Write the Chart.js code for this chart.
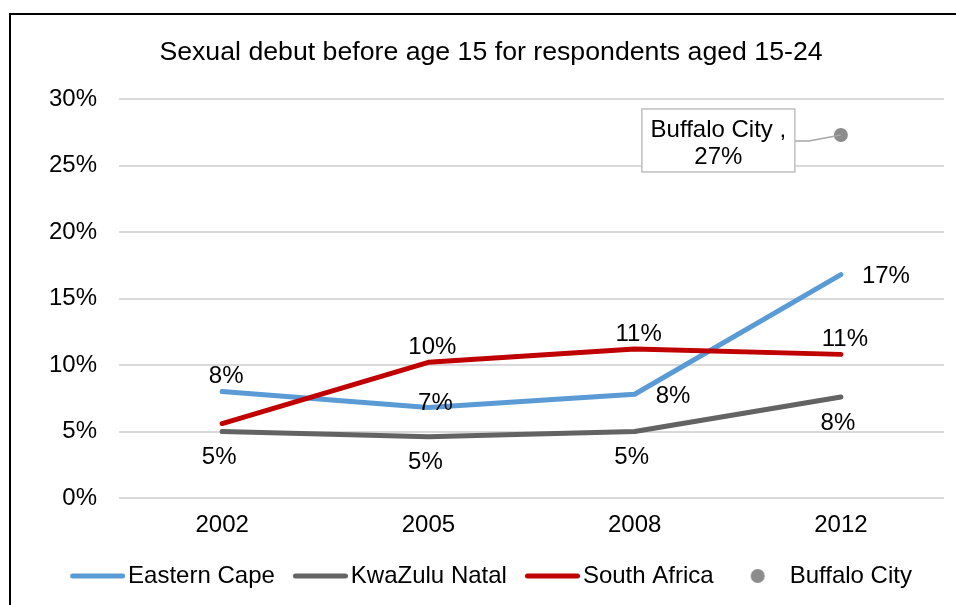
<!DOCTYPE html>
<html>
<head>
<meta charset="utf-8">
<script src="https://cdn.jsdelivr.net/npm/chart.js@4.4.1/dist/chart.umd.min.js"></script>
<style>
  html, body { margin: 0; padding: 0; background: #fff; overflow: hidden; }
  #frame { position: absolute; left: 9px; top: 13px; width: 962px; height: 620px; border: 2px solid #000; }
  #chart { display: block; }
</style>
</head>
<body>
<div id="frame"><canvas id="chart" width="960" height="590"></canvas></div>
<script>
// 数据
const years = ['2002', '2005', '2008', '2012'];
const easternCape = [8.0, 6.8, 7.8, 16.8];
const kwaZuluNatal = [5.0, 4.6, 5.0, 7.6];
const southAfrica = [5.6, 10.2, 11.2, 10.8];
const buffaloCity = [null, null, null, 27.3];
const yTicks = [0, 5, 10, 15, 20, 25, 30];

const FONT = '"Liberation Sans", Arial, sans-serif';

// 数据标签位置
const LABEL_POS = {
  above:  { dx: 4,  dy: -15, align: 'center' },
  below:  { dx: -3, dy: 26,  align: 'center' },
  right:  { dx: 21, dy: 2,   align: 'left' },
  center: { dx: 7,  dy: -4,  align: 'center' },
};

// 图例色块：线段或圆点，画成小 canvas 作为 pointStyle
function legendSwatch(ds) {
  const c = document.createElement('canvas');
  if (ds.showLine === false) {
    c.width = 22; c.height = 16;
    const g = c.getContext('2d');
    g.fillStyle = ds.backgroundColor;
    g.beginPath();
    g.arc(14, 8, 7, 0, Math.PI * 2);
    g.fill();
  } else {
    c.width = 64; c.height = 8;
    const g = c.getContext('2d');
    g.strokeStyle = ds.borderColor;
    g.lineWidth = 5;
    g.lineCap = 'round';
    g.beginPath();
    g.moveTo(11.5, 4);
    g.lineTo(61.5, 4);
    g.stroke();
  }
  return c;
}

const valueLabels = {
  id: 'valueLabels',
  afterDatasetsDraw(chart) {
    const ctx = chart.ctx;
    ctx.save();
    ctx.font = '24px ' + FONT;
    ctx.fillStyle = '#000';
    ctx.textBaseline = 'middle';
    chart.data.datasets.forEach((ds, i) => {
      const meta = chart.getDatasetMeta(i);
      if (ds.callout) {
        meta.data.forEach((pt, j) => {
          const v = ds.data[j];
          if (v == null) return;
          const left = pt.x - 199, right = pt.x - 46, top = pt.y - 26, bottom = pt.y + 37;
          // 引线
          ctx.strokeStyle = '#a6a6a6';
          ctx.lineWidth = 1.5;
          ctx.beginPath();
          ctx.moveTo(right, pt.y + 6);
          ctx.lineTo(right + 14, pt.y + 6);
          ctx.lineTo(pt.x, pt.y);
          ctx.stroke();
          // 标注框
          ctx.fillStyle = '#fff';
          ctx.fillRect(left, top, right - left, bottom - top);
          ctx.strokeStyle = '#bfbfbf';
          ctx.strokeRect(left, top, right - left, bottom - top);
          ctx.fillStyle = '#000';
          ctx.textAlign = 'center';
          const cx = (left + right) / 2;
          ctx.fillText(ds.label + ' ,', cx, pt.y - 5);
          ctx.fillText(Math.round(v) + '%', cx, pt.y + 22);
        });
        return;
      }
      if (!ds.labelPlaces) return;
      meta.data.forEach((pt, j) => {
        const pos = LABEL_POS[ds.labelPlaces[j]];
        const v = ds.data[j];
        if (!pos || v == null) return;
        ctx.textAlign = pos.align;
        ctx.fillText(Math.round(v) + '%', pt.x + pos.dx, pt.y + pos.dy);
      });
    });
    ctx.restore();
  }
};

const lineDefaults = {
  borderWidth: 5,
  borderCapStyle: 'round',
  borderJoinStyle: 'round',
  pointRadius: 0,
  pointHoverRadius: 0,
  tension: 0,
};

new Chart(document.getElementById('chart'), {
  type: 'line',
  data: {
    labels: years,
    datasets: [
      { ...lineDefaults, label: 'Eastern Cape', data: easternCape, borderColor: '#5b9bd5', order: 2,
        labelPlaces: ['above', 'center', 'right', 'right'] },
      { ...lineDefaults, label: 'KwaZulu Natal', data: kwaZuluNatal, borderColor: '#636363', order: 3,
        labelPlaces: ['below', 'below', 'below', 'below'] },
      { ...lineDefaults, label: 'South Africa', data: southAfrica, borderColor: '#c00000', order: 1,
        labelPlaces: [null, 'above', 'above', 'above'] },
      { label: 'Buffalo City', data: buffaloCity, showLine: false, order: 0, callout: true,
        pointRadius: 7, pointHoverRadius: 7, borderWidth: 0,
        backgroundColor: '#8c8c8c', borderColor: '#8c8c8c' },
    ],
  },
  options: {
    responsive: false,
    animation: false,
    layout: { padding: { left: 27, right: 27, top: 0, bottom: 7 } },
    plugins: {
      title: {
        display: true,
        text: 'Sexual debut before age 15 for respondents aged 15-24',
        color: '#000',
        font: { family: FONT, size: 26.7, weight: 'normal' },
        padding: { top: 22, bottom: 30 },
      },
      legend: {
        position: 'bottom',
        labels: {
          usePointStyle: true,
          pointStyleWidth: 46,
          padding: 18,
          color: '#000',
          font: { family: FONT, size: 24 },
          generateLabels: (chart) => chart.data.datasets.map((ds, i) => ({
            text: ds.label,
            pointStyle: legendSwatch(ds),
            fillStyle: ds.borderColor,
            strokeStyle: ds.borderColor,
            lineWidth: 0,
            hidden: false,
            datasetIndex: i,
            fontColor: '#000',
          })),
        },
      },
      tooltip: { enabled: false },
    },
    scales: {
      x: {
        offset: true,
        grid: { display: false, drawTicks: false },
        border: { display: false },
        ticks: { color: '#000', padding: 12.6, font: { family: FONT, size: 24 } },
        afterFit: (scale) => { scale.height = 48; },
      },
      y: {
        min: 0,
        max: 30,
        afterBuildTicks: (scale) => { scale.ticks = yTicks.map(v => ({ value: v })); },
        afterFit: (scale) => { scale.width = 81; },
        grid: { color: '#d9d9d9', lineWidth: 2, drawTicks: false },
        border: { display: false },
        ticks: {
          color: '#000',
          padding: 22,
          font: { family: FONT, size: 24 },
          callback: (v) => v + '%',
        },
      },
    },
  },
  plugins: [valueLabels],
});
</script>
</body>
</html>
